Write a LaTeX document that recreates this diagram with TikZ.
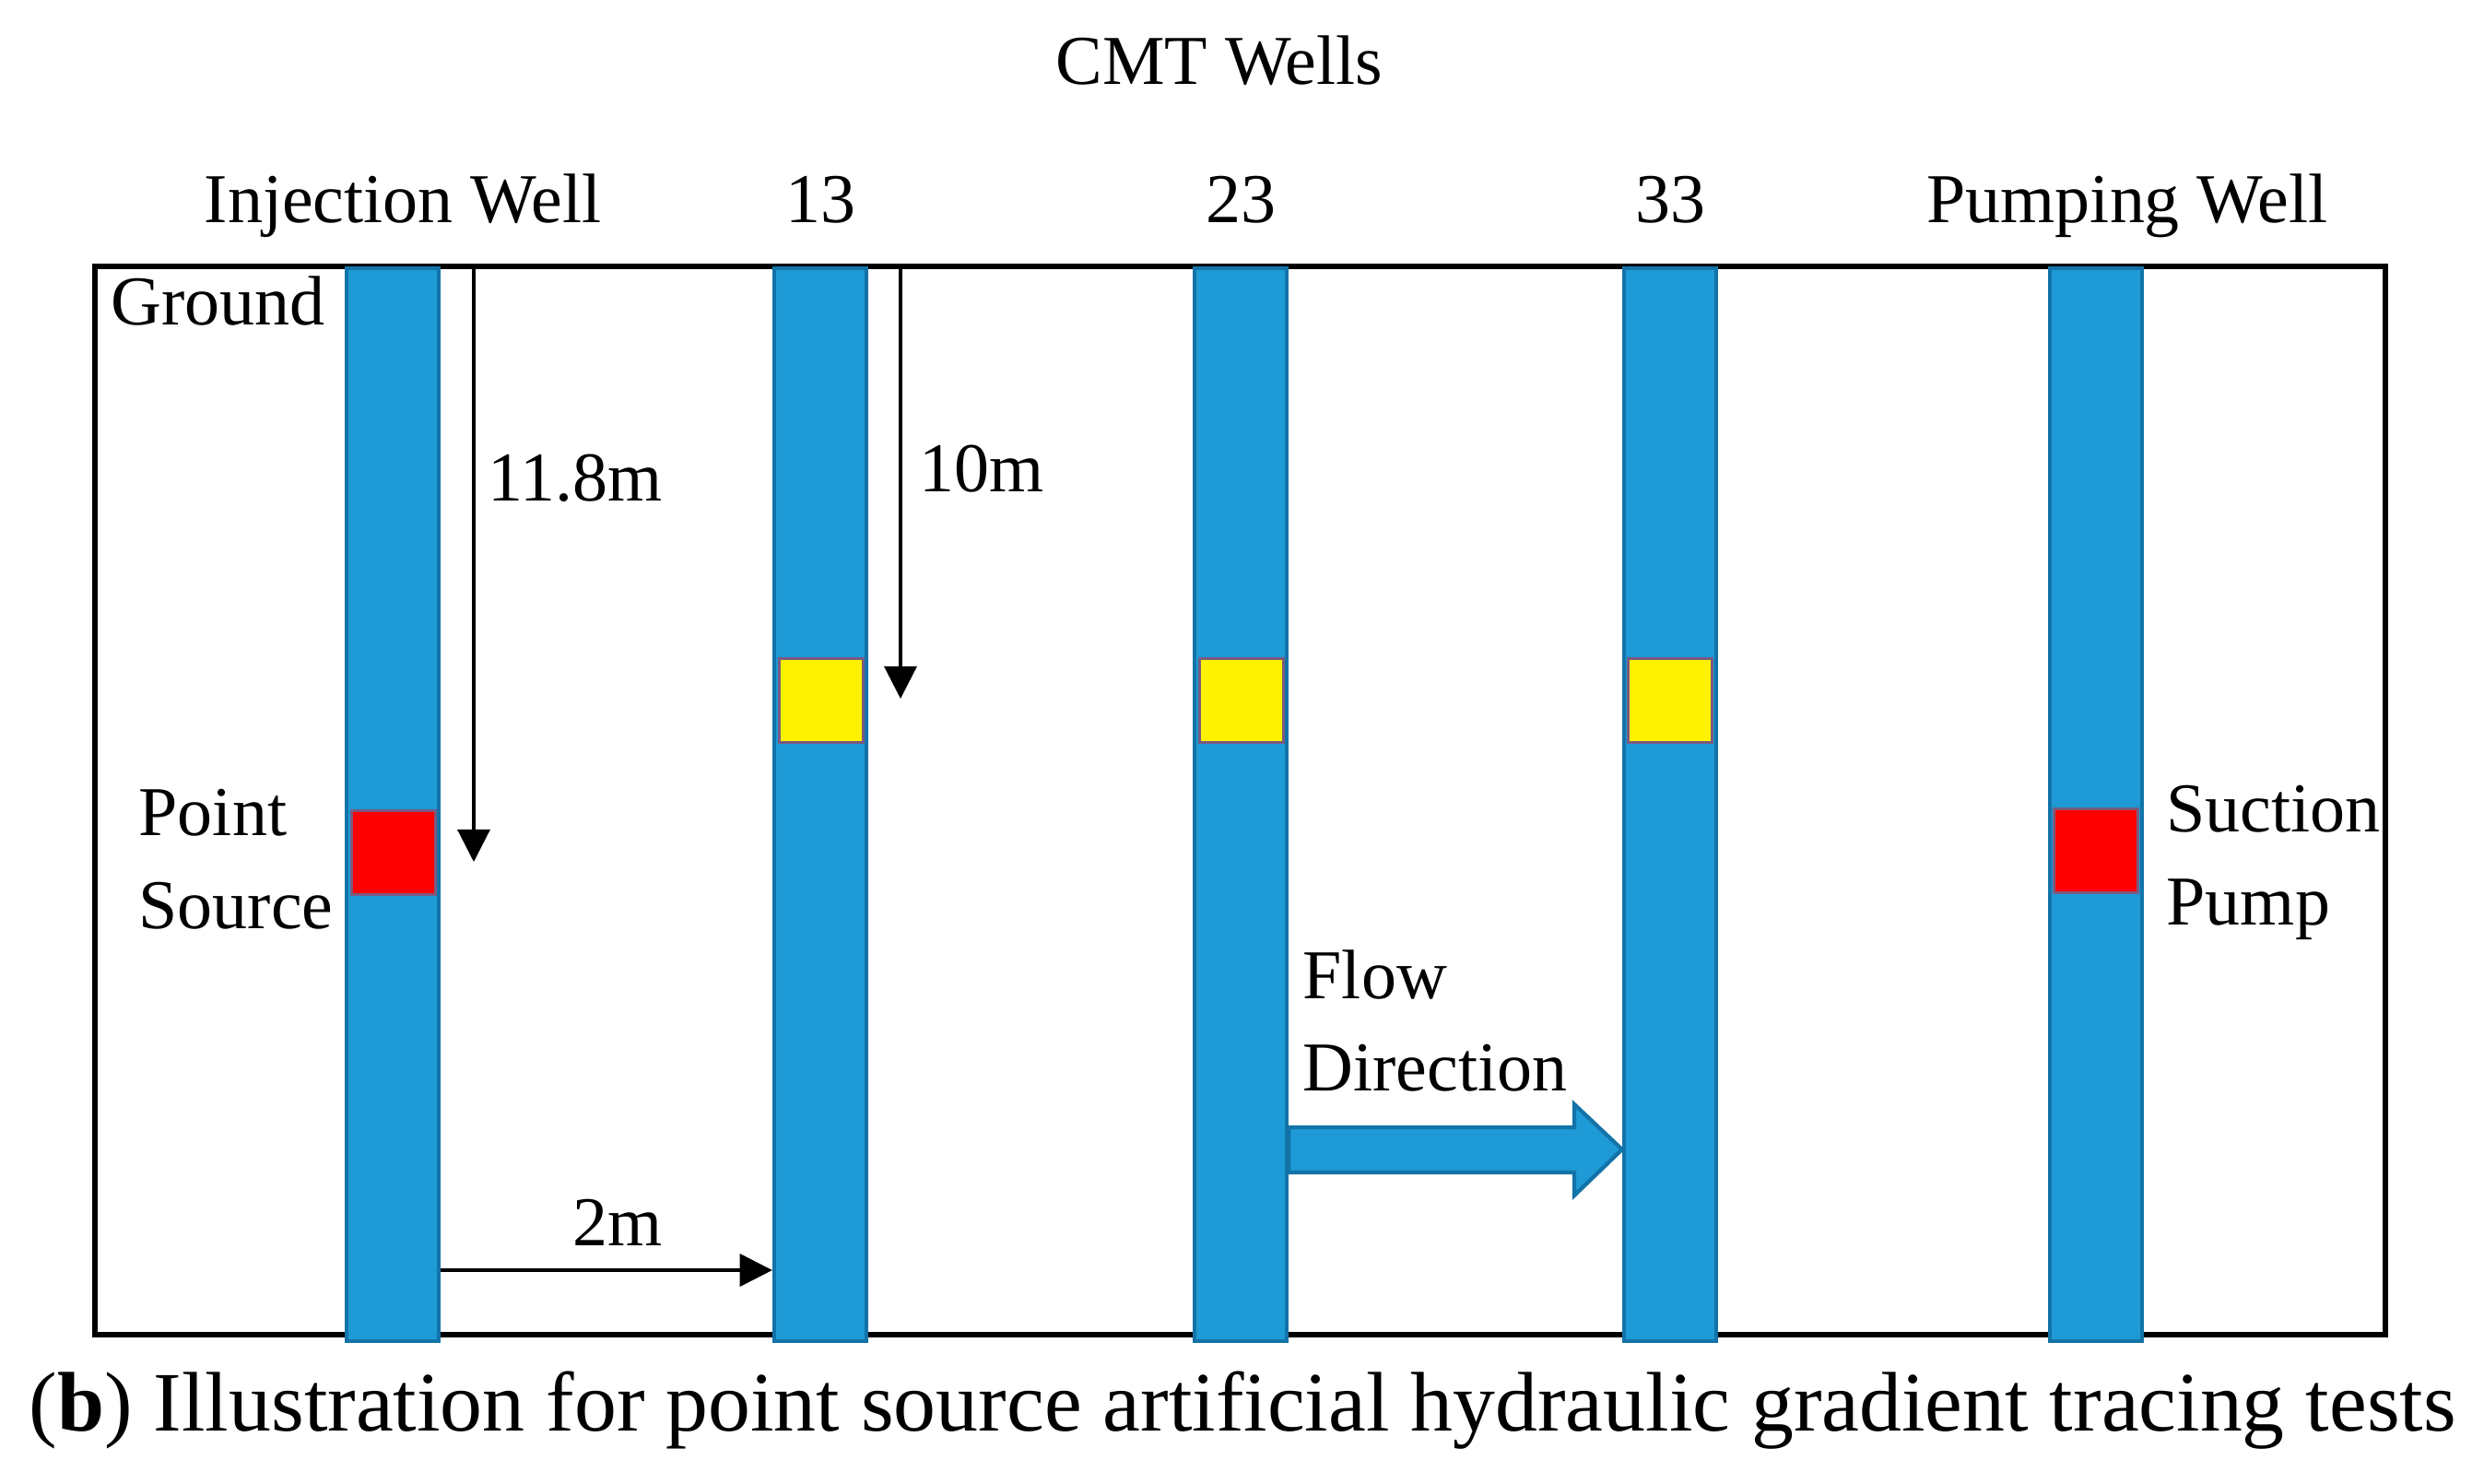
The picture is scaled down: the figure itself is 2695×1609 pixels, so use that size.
\documentclass[tikz,border=0pt]{standalone}
\usepackage{fontspec}
\setmainfont{Liberation Serif}
\usetikzlibrary{
    positioning,
    arrows.meta
}
\definecolor{pozo}{HTML}{1E9AD6}
\definecolor{pozoborde}{HTML}{1373A8}
\definecolor{cajaborde}{HTML}{7A5A80}
\tikzset{
    >={Triangle[length=10pt,width=10pt]},
    well/.style={
        draw=pozoborde,
        fill=pozo,
        line width=1.2pt,
        anchor=north,
        minimum width=1cm,
        minimum height=11.63cm,
        inner sep=0pt
    },
    port/.style={
        draw=cajaborde,
        line width=0.8pt,
        minimum size=0.91cm,
        inner sep=0pt
    },
    txt/.style={
        inner sep=0pt,
        font=\fontsize{21.6}{28.5}\selectfont
    }
}

\begin{document}
\begin{tikzpicture}[
    x=0.01cm,
    y=-0.01cm
]
    \useasboundingbox (0,0) rectangle (2695,1609);

    % Marco
    \draw[line width=1.8pt] (103,289) rectangle (2588,1448);

    % Pozos
    \node[well] (iw)  at (426,289)  {};
    \node[well] (w13) at (890,289)  {};
    \node[well] (w23) at (1346,289) {};
    \node[well] (w33) at (1812,289) {};
    \node[well] (pw)  at (2274,289) {};

    % Fuentes y puertos
    \node[port, fill=red]    (src)  at (427,925)  {};
    \node[port, fill=red]    (pump) at (2274,923) {};
    \node[port, fill=yellow] (p13)  at (891,760)  {};
    \node[port, fill=yellow] (p23)  at (1347,760) {};
    \node[port, fill=yellow] (p33)  at (1812,760) {};

    % Cotas
    \coordinate (g1) at (514,289);
    \coordinate (d1) at (514,935);
    \coordinate (g2) at (977,289);
    \coordinate (d2) at (977,758);
    \draw[->, line width=0.9pt] (g1) -- (d1);
    \draw[->, line width=0.9pt] (g2) -- (d2);
    \draw[->, line width=0.9pt] (iw.east |- 0,1378) -- (w13.west |- 0,1378);

    % Flecha de flujo
    \draw[pozoborde, fill=pozo, line width=1.2pt]
        (w23.east |- 0,1223) -- (1708,1223) -- (1708,1198)
        -- (w33.west |- 0,1247) -- (1708,1297) -- (1708,1272)
        -- (w23.east |- 0,1272) -- cycle;

    % Textos
    \node[txt, anchor=base] (cmt) at (1323,91) {CMT Wells};
    \node[txt, anchor=base] (liw) at (437,241) {Injection Well};
    \node[txt, anchor=base] (l13) at (w13.north |- 0,241) {13};
    \node[txt, anchor=base] (l23) at (w23.north |- 0,241) {23};
    \node[txt, anchor=base] (l33) at (w33.north |- 0,241) {33};
    \node[txt, anchor=base] (lpw) at (2308,241) {Pumping Well};
    \node[txt, anchor=base west] (gnd) at (120,352) {Ground};
    \node[txt, anchor=base west] (h1) at (529,543) {11.8m};
    \node[txt, anchor=base west] (h2) at (997,533) {10m};
    \node[txt, anchor=base west] (ps) at (150,906) {Point};
    \node[txt, below=1.01cm of ps.base west, anchor=base west] (ps2) {Source};
    \node[txt, anchor=base west] (sp) at (2350,902) {Suction};
    \node[txt, below=1.01cm of sp.base west, anchor=base west] (sp2) {Pump};
    \node[txt, anchor=base west] (fd) at (1413,1083) {Flow};
    \node[txt, below=1.0cm of fd.base west, anchor=base west] (fd2) {Direction};
    \node[txt, anchor=base] (dx) at (670,1351) {2m};

    % Pie
    \node[txt, anchor=base west, font=\fontsize{26.1}{30}\selectfont]
        (cap) at (31,1552) {(\textbf{b}) Illustration for point source artificial hydraulic gradient tracing tests};

\end{tikzpicture}
\end{document}
